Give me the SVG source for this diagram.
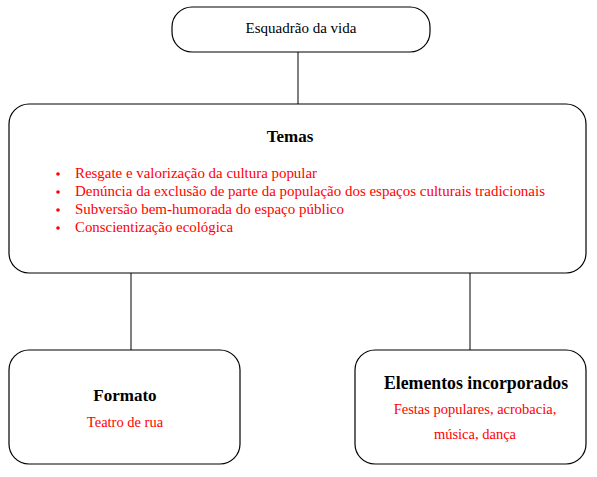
<svg xmlns="http://www.w3.org/2000/svg" width="597" height="477" viewBox="0 0 597 477">
<style>
text{font-family:'Liberation Serif','DejaVu Serif',serif}
.box{fill:#fff;stroke:#000;stroke-width:1.2}
.t{font-size:15px;fill:#000}
.b{font-size:17px;font-weight:bold;fill:#000}
.r{font-size:14.5px;fill:#f00}
.c{stroke:#000;stroke-width:1;fill:none}
</style>
<rect width="597" height="477" fill="#fff"/>
<g id="connectors">
<line class="c" x1="298" y1="52" x2="298" y2="104"/>
<line class="c" x1="131" y1="273" x2="131" y2="350"/>
<line class="c" x1="470" y1="273" x2="470" y2="350"/>
</g>
<g id="node-esquadrao">
<rect class="box" x="172" y="7" width="258" height="45" rx="20"/>
<text class="t" x="301" y="33" text-anchor="middle">Esquadrão da vida</text>
</g>
<g id="node-temas">
<rect class="box" x="9" y="104" width="577" height="169" rx="20"/>
<text class="b" x="290" y="142" text-anchor="middle">Temas</text>
<circle cx="58" cy="174" r="1.8" fill="#f00"/>
<circle cx="58" cy="192" r="1.8" fill="#f00"/>
<circle cx="58" cy="210" r="1.8" fill="#f00"/>
<circle cx="58" cy="228" r="1.8" fill="#f00"/>
<text class="r" x="75" y="178" textLength="242" lengthAdjust="spacingAndGlyphs">Resgate e valorização da cultura popular</text>
<text class="r" x="75" y="196" textLength="470" lengthAdjust="spacingAndGlyphs">Denúncia da exclusão de parte da população dos espaços culturais tradicionais</text>
<text class="r" x="75" y="214" textLength="269" lengthAdjust="spacingAndGlyphs">Subversão bem-humorada do espaço público</text>
<text class="r" x="75" y="232" textLength="158" lengthAdjust="spacingAndGlyphs">Conscientização ecológica</text>
</g>
<g id="node-formato">
<rect class="box" x="9" y="350" width="231" height="114" rx="20"/>
<text class="b" x="125" y="401" text-anchor="middle">Formato</text>
<text class="r" x="125" y="427" text-anchor="middle">Teatro de rua</text>
</g>
<g id="node-elementos">
<rect class="box" x="355" y="350" width="231" height="114" rx="20"/>
<text class="b" x="476" y="389" text-anchor="middle" style="font-size:17.8px">Elementos incorporados</text>
<text class="r" x="475" y="414" text-anchor="middle">Festas populares, acrobacia,</text>
<text class="r" x="475" y="439" text-anchor="middle">música, dança</text>
</g>
</svg>
